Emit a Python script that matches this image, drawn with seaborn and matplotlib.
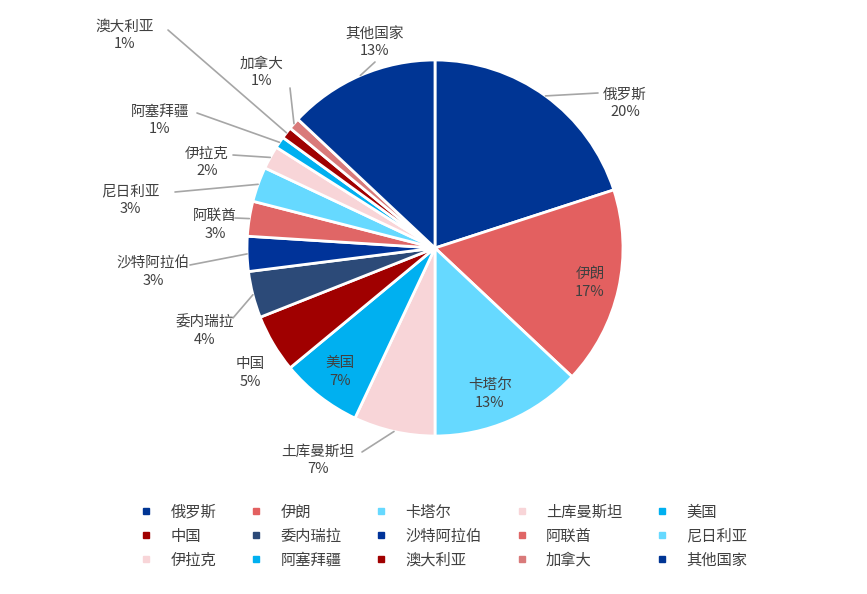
import matplotlib
matplotlib.use("Agg")
import matplotlib.pyplot as plt
import seaborn as sns
from matplotlib.lines import Line2D
import numpy as np

sns.set_theme(style="white")
plt.rcParams["font.family"] = "Noto Sans CJK SC"

countries = ["俄罗斯", "伊朗", "卡塔尔", "土库曼斯坦", "美国", "中国", "委内瑞拉", "沙特阿拉伯",
             "阿联酋", "尼日利亚", "伊拉克", "阿塞拜疆", "澳大利亚", "加拿大", "其他国家"]
shares = [20, 17, 13, 7, 7, 5, 4, 3, 3, 3, 2, 1, 1, 1, 13]
colors = ["#003594", "#e36060", "#66d9ff", "#f8d5d8", "#00b0f0", "#a00000", "#2c4a78", "#003399",
          "#e06666", "#66d9ff", "#f8d5d8", "#00b0f0", "#a00000", "#d97a7a", "#003594"]
label_px = [(625, 103), (590, 283), (490, 394), (318, 460), (340, 372), (250, 373), (205, 331),
            (153, 272), (215, 225), (130, 200), (207, 162), (160, 120), (125, 35), (262, 72), (375, 42)]
leader_px = [(598, 93), None, None, (362, 452), None, None, (233, 318), (190, 265), (235, 218),
             (175, 192), (233, 155), (197, 113), (168, 30), (290, 88), (375, 62)]

W, H, R, CX, CY = 867, 594, 188, 435, 248
fig = plt.figure(figsize=(8.67, 5.94), dpi=100)
ax = fig.add_axes([0, 0, 1, 1])

def to_data(p):
    return ((p[0] - CX) / R, (CY - p[1]) / R)

wedges, _ = ax.pie(shares, colors=colors, startangle=90, counterclock=False, radius=1,
                   wedgeprops=dict(edgecolor="white", linewidth=2))
ax.set_xlim(-CX / R, (W - CX) / R)
ax.set_ylim(-(H - CY) / R, CY / R)
ax.set_aspect("equal")
ax.axis("off")
for w, name, v, lp, ld in zip(wedges, countries, shares, label_px, leader_px):
    ang = np.deg2rad((w.theta1 + w.theta2) / 2)
    x, y = to_data(lp)
    ax.text(x, y, f"{name}\n{v}%", ha="center", va="center", fontsize=10.5,
            color="#404040", linespacing=1.3)
    if ld is not None:
        ex, ey = to_data(ld)
        ax.plot([np.cos(ang) * 1.0, ex], [np.sin(ang) * 1.0, ey], color="#a6a6a6", lw=1.2)

order = [r * 5 + c for c in range(5) for r in range(3)]
handles = [Line2D([], [], marker="s", ls="", color=colors[i], markersize=4) for i in order]
labels = [countries[i] for i in order]
fig.legend(handles, labels, loc="upper left", bbox_to_anchor=(0.135, 0.175),
           ncol=5, frameon=False, fontsize=11, handletextpad=0.6, columnspacing=1.6,
           labelspacing=0.45, labelcolor="#404040")
fig.savefig("out.png", dpi=100, facecolor="white")
